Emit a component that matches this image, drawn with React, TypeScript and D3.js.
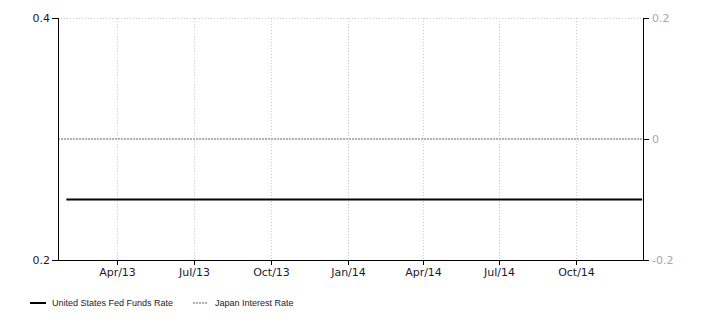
import React from "react";
import * as d3 from "d3";

// Fed Funds Rate at each FOMC decision (left axis, %)
const usDates = [
  "2013-01-30", "2013-03-20", "2013-05-01", "2013-06-19", "2013-07-31", "2013-09-18",
  "2013-10-30", "2013-12-18", "2014-01-29", "2014-03-19", "2014-04-30", "2014-06-18",
  "2014-07-30", "2014-09-17", "2014-10-29", "2014-12-17", "2014-12-19",
];
const usValues = [0.25, 0.25, 0.25, 0.25, 0.25, 0.25, 0.25, 0.25, 0.25, 0.25, 0.25, 0.25, 0.25, 0.25, 0.25, 0.25, 0.25];

// Japan policy rate (right axis, %)
const jpDates = [
  "2013-01-20", "2013-04-04", "2013-06-11", "2013-08-08", "2013-10-04", "2013-12-20",
  "2014-02-18", "2014-04-30", "2014-06-13", "2014-08-08", "2014-10-31", "2014-12-20",
];
const jpValues = [0, 0, 0, 0, 0, 0, 0, 0, 0, 0, 0, 0];

const xDomain = ["2013-01-20", "2014-12-20"];
const xTickDates = ["2013-04-01", "2013-07-01", "2013-10-01", "2014-01-01", "2014-04-01", "2014-07-01", "2014-10-01"];
const leftTicks = [0.2, 0.4];
const rightTicks = [-0.2, 0, 0.2];
const legendLabels = ["United States Fed Funds Rate", "Japan Interest Rate"];

const W = 710;
const H = 325;
const M = { left: 58, right: 67, top: 18, bottom: 65 };

export default function App() {
  const parse = d3.timeParse("%Y-%m-%d");
  const x = d3
    .scaleTime()
    .domain(xDomain.map((d) => parse(d) as Date))
    .range([M.left, W - M.right]);
  const yL = d3.scaleLinear().domain([0.2, 0.4]).range([H - M.bottom, M.top]);
  const yR = d3.scaleLinear().domain([-0.2, 0.2]).range([H - M.bottom, M.top]);
  const fmt = d3.timeFormat("%b/%y");

  const usLine = d3
    .line<[Date, number]>()
    .x((d) => x(d[0]))
    .y((d) => yL(d[1]))
    .curve(d3.curveStepAfter);
  const jpLine = d3
    .line<[Date, number]>()
    .x((d) => x(d[0]))
    .y((d) => yR(d[1]))
    .curve(d3.curveStepAfter);

  const usData = usDates.map((d, i) => [parse(d) as Date, usValues[i]] as [Date, number]);
  const jpData = jpDates.map((d, i) => [parse(d) as Date, jpValues[i]] as [Date, number]);

  const x0 = M.left;
  const x1 = W - M.right;
  const yTop = M.top;
  const yBot = H - M.bottom;
  const font = "Tahoma, 'DejaVu Sans', Verdana, sans-serif";

  return (
    <svg
      width={W}
      height={H}
      style={{ position: "absolute", left: 0, top: 0, background: "#fff" }}
      fontFamily={font}
    >
      {/* vertical grid */}
      {xTickDates.map((d) => {
        const xx = Math.round(x(parse(d) as Date)) + 0.5;
        return (
          <line key={d} x1={xx} x2={xx} y1={yTop} y2={yBot} stroke="#c8c8c8" strokeWidth={1} strokeDasharray="1,2" />
        );
      })}
      {/* top grid */}
      <line x1={x0} x2={x1} y1={yTop + 0.5} y2={yTop + 0.5} stroke="#c8c8c8" strokeWidth={1} strokeDasharray="1,2" />

      {/* series */}
      <path d={jpLine(jpData) ?? ""} fill="none" stroke="#999" strokeWidth={1.5} strokeDasharray="2,1" />
      <path d={usLine(usData) ?? ""} fill="none" stroke="#000" strokeWidth={2} />

      {/* axes */}
      <line x1={x0 + 0.5} x2={x0 + 0.5} y1={yTop} y2={yBot} stroke="#000" />
      <line x1={x1 + 0.5} x2={x1 + 0.5} y1={yTop} y2={yBot} stroke="#000" />
      <line x1={x0} x2={x1 + 1} y1={yBot + 0.5} y2={yBot + 0.5} stroke="#000" />

      {leftTicks.map((t) => (
        <g key={"l" + t}>
          <line x1={x0 - 6} x2={x0} y1={Math.round(yL(t)) + 0.5} y2={Math.round(yL(t)) + 0.5} stroke="#000" />
          <text x={x0 - 8} y={yL(t)} dy="0.35em" textAnchor="end" fontSize={11} fill="#1a1a2e">
            {t.toFixed(1)}
          </text>
        </g>
      ))}
      {rightTicks.map((t) => (
        <g key={"r" + t}>
          <line x1={x1} x2={x1 + 6} y1={Math.round(yR(t)) + 0.5} y2={Math.round(yR(t)) + 0.5} stroke="#000" />
          <text x={x1 + 9} y={yR(t)} dy="0.35em" textAnchor="start" fontSize={11} fill="#a8a8a8">
            {t === 0 ? "0" : t.toFixed(1)}
          </text>
        </g>
      ))}
      {xTickDates.map((d) => {
        const xx = Math.round(x(parse(d) as Date)) + 0.5;
        return (
          <g key={"x" + d}>
            <line x1={xx} x2={xx} y1={yBot} y2={yBot + 5} stroke="#000" />
            <text x={xx} y={yBot + 16} textAnchor="middle" fontSize={11} fill="#1a1a2e">
              {fmt(parse(d) as Date)}
            </text>
          </g>
        );
      })}

      {/* legend */}
      <g fontFamily="'Liberation Sans', Arial, sans-serif" fontSize={9} fill="#1a1a2e">
        <line x1={30} x2={46} y1={303} y2={303} stroke="#000" strokeWidth={2} />
        <text x={52} y={303} dy="0.35em">{legendLabels[0]}</text>
        <line x1={193} x2={207} y1={303} y2={303} stroke="#999" strokeWidth={1.5} strokeDasharray="2,1" />
        <text x={215} y={303} dy="0.35em">{legendLabels[1]}</text>
      </g>
    </svg>
  );
}
